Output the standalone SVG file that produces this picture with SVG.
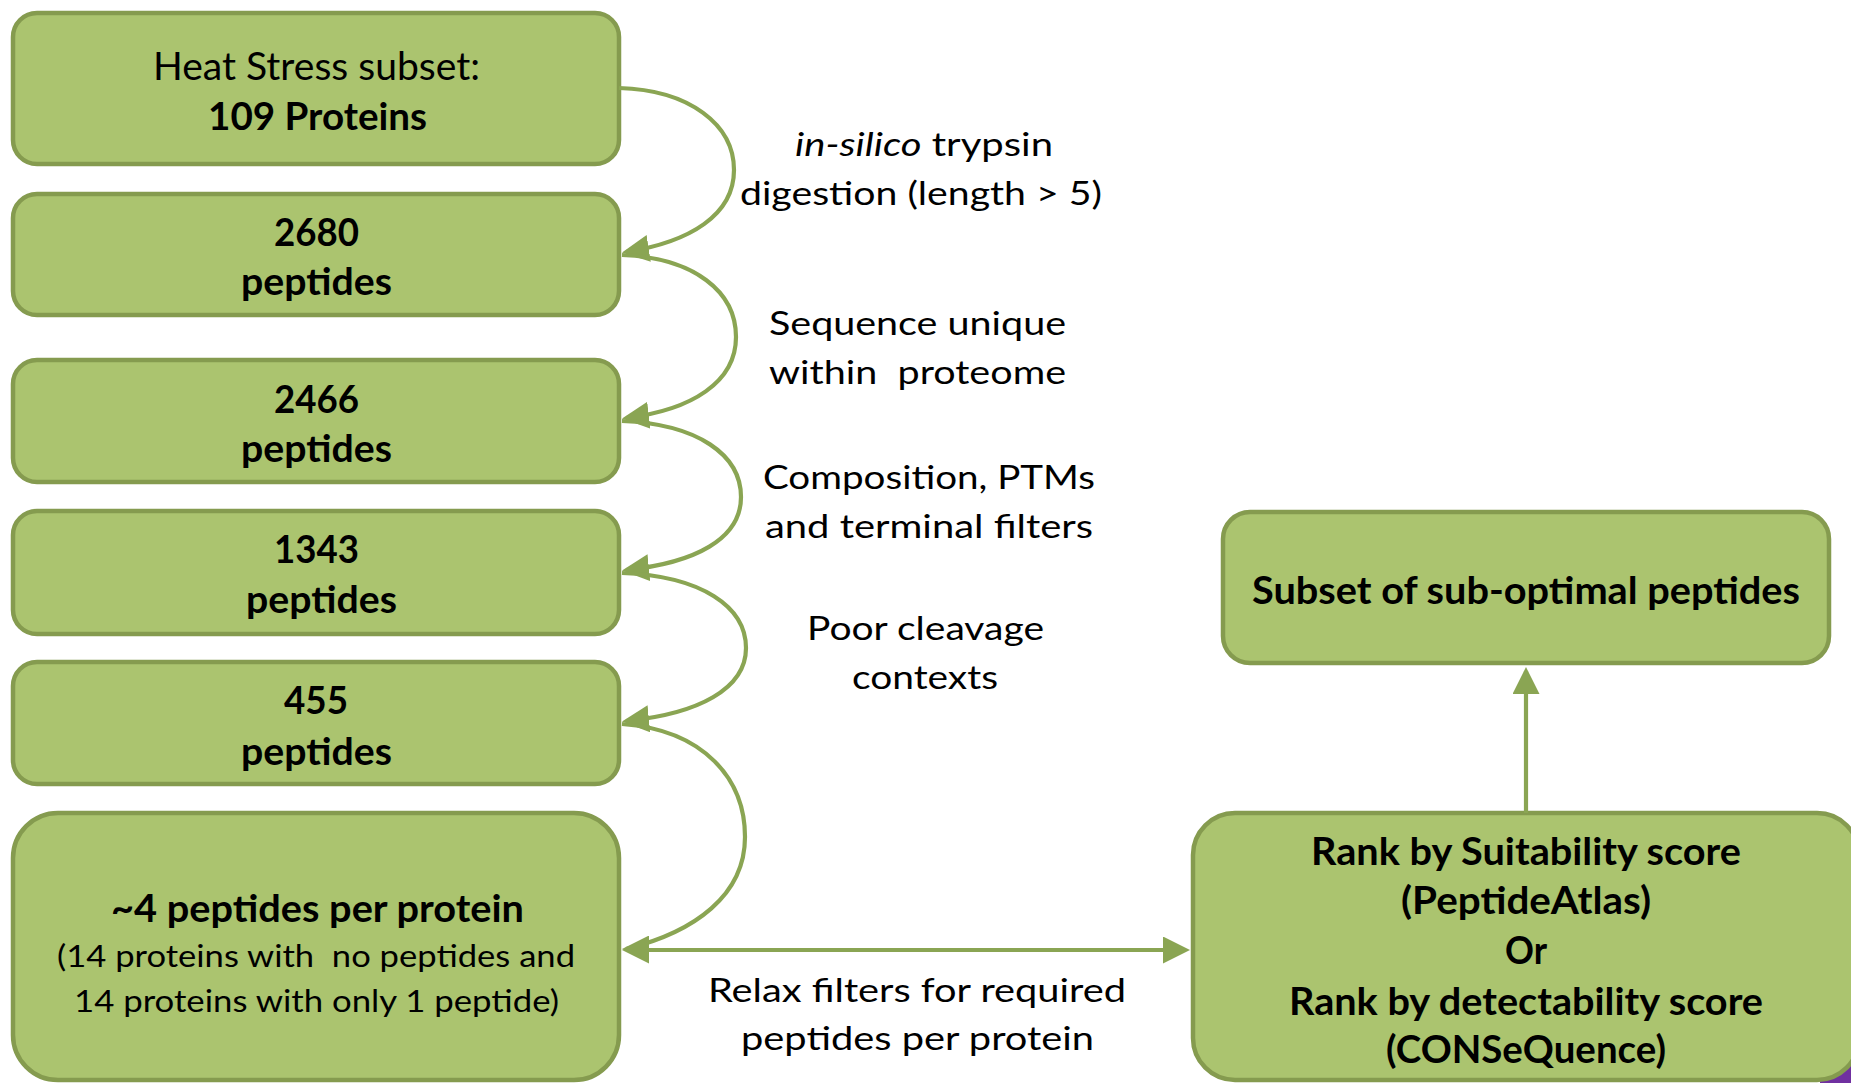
<svg xmlns="http://www.w3.org/2000/svg" width="1851" height="1083" viewBox="0 0 1851 1083">
  <style>
    .node rect { fill: #abc46f; stroke: #859b4f; stroke-width: 4.5; }
    .conn { fill: none; stroke: #8aa553; stroke-width: 4.2; }
    text { font-family: Lato, "Open Sans", "Liberation Sans", sans-serif; fill: #000; }
    .b { font-weight: bold; font-size: 38px; }
    .r { font-size: 38px; }
    .lbl { font-size: 33px; }
    .sub { font-size: 31px; }
  </style>
  <defs>
    <marker id="ah" markerUnits="userSpaceOnUse" markerWidth="27" markerHeight="27" viewBox="0 0 27 27" refX="23" refY="13.5" orient="auto-start-reverse">
      <path d="M0,0 L27,13.5 L0,27 z" fill="#8aa553"/>
    </marker>
    <marker id="ahLeft" markerUnits="userSpaceOnUse" markerWidth="27" markerHeight="27" viewBox="0 0 27 27" refX="23" refY="13.5" orient="180">
      <path d="M0,0 L27,13.5 L0,27 z" fill="#8aa553"/>
    </marker>
  </defs>

  <rect width="1851" height="1083" fill="#ffffff"/>
  <!-- corner of a neighbouring purple shape -->
  <rect x="1820" y="1040" width="31" height="43" fill="#7030a0"/>

  <!-- left column -->
  <g id="proteins" class="node">
    <rect x="13" y="13" width="606" height="151" rx="24"/>
    <text class="r" x="153" y="80" textLength="327" lengthAdjust="spacingAndGlyphs">Heat Stress subset:</text>
    <text class="b" x="208" y="130" textLength="219" lengthAdjust="spacingAndGlyphs">109 Proteins</text>
  </g>
  <g id="pep2680" class="node">
    <rect x="13" y="194" width="606" height="121" rx="24"/>
    <text class="b" x="274" y="246" textLength="85" lengthAdjust="spacingAndGlyphs">2680</text>
    <text class="b" x="241" y="295" textLength="151" lengthAdjust="spacingAndGlyphs">peptides</text>
  </g>
  <g id="pep2466" class="node">
    <rect x="13" y="360" width="606" height="122" rx="24"/>
    <text class="b" x="274" y="413" textLength="85" lengthAdjust="spacingAndGlyphs">2466</text>
    <text class="b" x="241" y="462" textLength="151" lengthAdjust="spacingAndGlyphs">peptides</text>
  </g>
  <g id="pep1343" class="node">
    <rect x="13" y="511" width="606" height="123" rx="24"/>
    <text class="b" x="274" y="563" textLength="85" lengthAdjust="spacingAndGlyphs">1343</text>
    <text class="b" x="246" y="613" textLength="151" lengthAdjust="spacingAndGlyphs">peptides</text>
  </g>
  <g id="pep455" class="node">
    <rect x="13" y="662" width="606" height="122" rx="24"/>
    <text class="b" x="284" y="714" textLength="64" lengthAdjust="spacingAndGlyphs">455</text>
    <text class="b" x="241" y="765" textLength="151" lengthAdjust="spacingAndGlyphs">peptides</text>
  </g>
  <g id="perProtein" class="node">
    <rect x="13" y="813" width="606" height="267" rx="45"/>
    <text class="b" x="111" y="922" textLength="413" lengthAdjust="spacingAndGlyphs">~4 peptides per protein</text>
    <text class="sub" x="57" y="967" textLength="518" lengthAdjust="spacingAndGlyphs" xml:space="preserve">(14 proteins with  no peptides and</text>
    <text class="sub" x="74" y="1012" textLength="485" lengthAdjust="spacingAndGlyphs">14 proteins with only 1 peptide)</text>
  </g>

  <!-- right column -->
  <g id="subOptimal" class="node">
    <rect x="1223" y="512" width="606" height="151" rx="27"/>
    <text class="b" x="1252" y="604" textLength="548" lengthAdjust="spacingAndGlyphs">Subset of sub-optimal peptides</text>
  </g>
  <g id="rank" class="node">
    <rect x="1193" y="813" width="666" height="267" rx="42"/>
    <text class="b" x="1311" y="865" textLength="430" lengthAdjust="spacingAndGlyphs">Rank by Suitability score</text>
    <text class="b" x="1401" y="914" textLength="250" lengthAdjust="spacingAndGlyphs">(PeptideAtlas)</text>
    <text class="b" x="1505" y="964" textLength="42" lengthAdjust="spacingAndGlyphs">Or</text>
    <text class="b" x="1289" y="1015" textLength="474" lengthAdjust="spacingAndGlyphs">Rank by detectability score</text>
    <text class="b" x="1386" y="1063" textLength="280" lengthAdjust="spacingAndGlyphs">(CONSeQuence)</text>
  </g>

  <!-- connectors -->
  <g id="connectors">
    <path class="conn" d="M619,88 C690,90 734,125 734,170 C734,215 690,242 626,252" marker-end="url(#ah)"/>
    <path class="conn" d="M622,255 C695,258 736,292 736,337 C736,382 692,410 626,418" marker-end="url(#ah)"/>
    <path class="conn" d="M622,421 C698,424 741,455 741,497 C741,539 695,563 626,570" marker-end="url(#ah)"/>
    <path class="conn" d="M622,573 C702,576 746,607 746,648 C746,689 698,714 626,721" marker-end="url(#ah)"/>
    <path class="conn" d="M622,724 C705,730 745,780 745,837 C745,895 695,932 626,949" marker-end="url(#ahLeft)"/>
    <path class="conn" d="M626,950 L1186,950" marker-start="url(#ah)" marker-end="url(#ah)"/>
    <path class="conn" d="M1526,813 L1526,671" marker-end="url(#ah)"/>
  </g>

  <!-- connector labels -->
  <g id="labels">
    <text class="lbl" x="795" y="156" textLength="258" lengthAdjust="spacingAndGlyphs"><tspan font-style="italic">in-silico</tspan> trypsin</text>
    <text class="lbl" x="740" y="205" textLength="362" lengthAdjust="spacingAndGlyphs">digestion (length &gt; 5)</text>
    <text class="lbl" x="769" y="335" textLength="297" lengthAdjust="spacingAndGlyphs">Sequence unique</text>
    <text class="lbl" x="769" y="384" textLength="297" lengthAdjust="spacingAndGlyphs" xml:space="preserve">within  proteome</text>
    <text class="lbl" x="763" y="489" textLength="332" lengthAdjust="spacingAndGlyphs">Composition, PTMs</text>
    <text class="lbl" x="765" y="538" textLength="328" lengthAdjust="spacingAndGlyphs">and terminal filters</text>
    <text class="lbl" x="807" y="640" textLength="237" lengthAdjust="spacingAndGlyphs">Poor cleavage</text>
    <text class="lbl" x="852" y="689" textLength="146" lengthAdjust="spacingAndGlyphs">contexts</text>
    <text class="lbl" x="708" y="1002" textLength="418" lengthAdjust="spacingAndGlyphs">Relax filters for required</text>
    <text class="lbl" x="741" y="1050" textLength="353" lengthAdjust="spacingAndGlyphs">peptides per protein</text>
  </g>
</svg>
